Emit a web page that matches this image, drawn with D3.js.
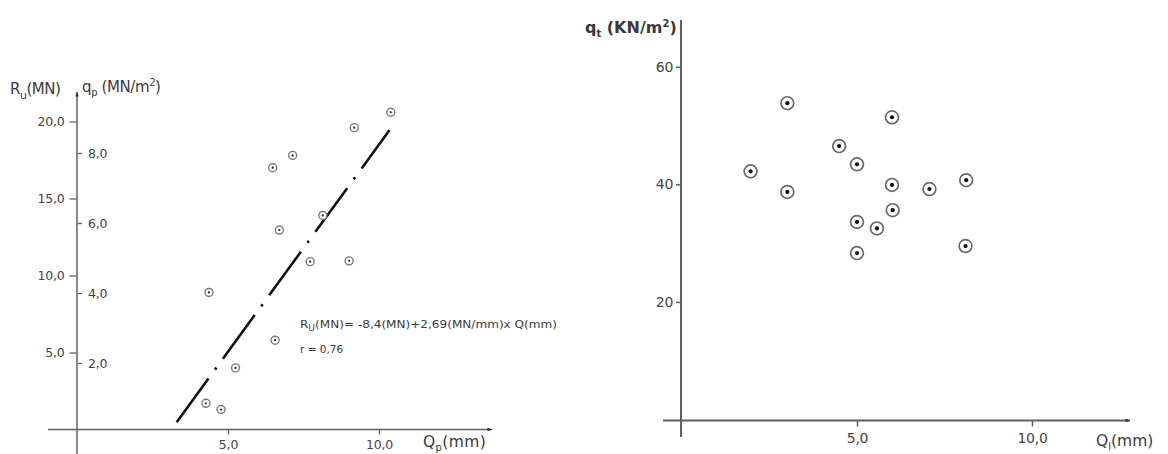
<!DOCTYPE html>
<html>
<head>
<meta charset="utf-8">
<script src="https://cdn.jsdelivr.net/npm/d3@7/dist/d3.min.js"></script>
<style>
  html, body { margin: 0; padding: 0; background: #fff; }
  svg { display: block; }
  .lbl { font-family: "DejaVu Sans", "Liberation Sans", sans-serif; fill: #3a3a3a; }
  .tick text { font-family: "DejaVu Sans", "Liberation Sans", sans-serif; fill: #444; }
</style>
</head>
<body>
<svg id="chart" width="1168" height="454"></svg>
<script>
// ---- Left panel: pile settlement Qp (mm) vs ultimate resistance Ru (MN) ----
const qpSettle = [4.37, 4.27, 4.77, 5.25, 6.56, 6.48, 7.14, 6.70, 7.72, 9.01, 8.14, 9.18, 10.39];
const ruValues = [8.9, 1.7, 1.3, 4.0, 5.8, 17.0, 17.8, 12.95, 10.9, 10.95, 13.9, 19.6, 20.6];
const ruTicks = [5, 10, 15, 20];
const qpTicks = [2, 4, 6, 8];
const leftXTicks = [5, 10];
// Regression Ru = a + b * Q, drawn over this settlement range
const fitIntercept = -8.4;
const fitSlope = 2.69;
const fitRange = [3.3, 10.35];

// ---- Right panel: settlement Ql (mm) vs shaft friction qt (kN/m2) ----
const qlSettle = [3.01, 4.49, 5.0, 1.96, 3.01, 5.0, 5.57, 6.02, 5.0, 6.0, 6.0, 7.07, 8.12, 8.10];
const qtValues = [53.8, 46.5, 43.4, 42.2, 38.7, 33.6, 32.5, 35.6, 28.3, 51.4, 39.9, 39.2, 40.7, 29.5];
const qtTicks = [20, 40, 60];
const rightXTicks = [5, 10];

const fmt1 = d => d.toFixed(1).replace(".", ",");
const svg = d3.select("#chart");
const axisColor = "#606060";

const defs = svg.append("defs");
defs.append("marker")
  .attr("id", "arrow")
  .attr("viewBox", "0 0 10 10")
  .attr("refX", 9).attr("refY", 5)
  .attr("markerWidth", 6).attr("markerHeight", 5)
  .attr("markerUnits", "userSpaceOnUse")
  .attr("orient", "auto")
  .append("path").attr("d", "M0,1.5 L10,5 L0,8.5 Z").attr("fill", "#333");

// ================= LEFT PANEL =================
const xL = d3.scaleLinear().domain([0, 10]).range([77, 379]);
const yRu = d3.scaleLinear().domain([0, 20]).range([429.5, 121.5]);
const yQp = d3.scaleLinear().domain([2, 8]).range([363, 153]);

const left = svg.append("g");

// axis lines
left.append("line")
  .attr("x1", xL(0)).attr("x2", xL(0))
  .attr("y1", 454).attr("y2", 92)
  .attr("stroke", axisColor).attr("stroke-width", 1.5)
  .attr("marker-end", "url(#arrow)");
left.append("line")
  .attr("x1", 48).attr("x2", 492)
  .attr("y1", yRu(0)).attr("y2", yRu(0))
  .attr("stroke", axisColor).attr("stroke-width", 1.5)
  .attr("marker-end", "url(#arrow)");

// Ru ticks (left side of axis)
const ruAxis = left.append("g")
  .attr("transform", `translate(${xL(0) - 0.5},0)`)
  .call(d3.axisLeft(yRu).tickValues(ruTicks).tickFormat(fmt1).tickSize(7).tickPadding(5));
// qp ticks (short dashes right of axis)
const qpAxis = left.append("g")
  .attr("transform", `translate(${xL(0) + 1},0)`)
  .call(d3.axisRight(yQp).tickValues(qpTicks).tickFormat(fmt1).tickSize(4).tickPadding(6));
// settlement ticks
const qxAxis = left.append("g")
  .attr("transform", `translate(0,${yRu(0)})`)
  .call(d3.axisBottom(xL).tickValues(leftXTicks).tickFormat(fmt1).tickSize(5).tickPadding(6));

[ruAxis, qpAxis, qxAxis].forEach(g => {
  g.select(".domain").remove();
  g.selectAll(".tick line").attr("stroke", axisColor).attr("stroke-width", 1.3);
  g.selectAll(".tick text").style("font-size", "12.5px").style("letter-spacing", "-0.2px");
});

// regression line (dash-dot)
const fitLine = d3.line().x(d => xL(d)).y(d => yRu(fitIntercept + fitSlope * d));
left.append("path")
  .datum(fitRange)
  .attr("d", fitLine)
  .attr("fill", "none")
  .attr("stroke", "#111")
  .attr("stroke-width", 2.6)
  .attr("stroke-dasharray", "54 11 2.5 11");

// data markers: ring with a centre dot
const lp = left.selectAll("g.pt").data(qpSettle.map((q, i) => [q, ruValues[i]]))
  .enter().append("g").attr("class", "pt")
  .attr("transform", d => `translate(${xL(d[0])},${yRu(d[1])})`);
lp.append("circle").attr("r", 4).attr("fill", "#fff").attr("stroke", "#7a7a7a").attr("stroke-width", 1.4);
lp.append("circle").attr("r", 1.1).attr("fill", "#222");

// axis titles
const ruTitle = left.append("text").attr("class", "lbl")
  .attr("x", 10).attr("y", 93.5).style("font-size", "15px").style("letter-spacing", "-0.5px");
ruTitle.append("tspan").text("R");
ruTitle.append("tspan").attr("dy", 5).style("font-size", "11px").text("u");
ruTitle.append("tspan").attr("dy", -5).text("(MN)");

const qpTitle = left.append("text").attr("class", "lbl")
  .attr("x", 82).attr("y", 92).style("font-size", "15px").style("letter-spacing", "-0.4px");
qpTitle.append("tspan").text("q");
qpTitle.append("tspan").attr("dy", 4).style("font-size", "10px").text("p");
qpTitle.append("tspan").attr("dy", -4).text(" (MN/m");
qpTitle.append("tspan").attr("dy", -6).style("font-size", "10px").text("2");
qpTitle.append("tspan").attr("dy", 6).text(")");

const qxTitle = left.append("text").attr("class", "lbl")
  .attr("x", 423).attr("y", 447).style("font-size", "15.5px").style("letter-spacing", "0.4px");
qxTitle.append("tspan").text("Q");
qxTitle.append("tspan").attr("dy", 4).style("font-size", "10px").text("p");
qxTitle.append("tspan").attr("dy", -4).text("(mm)");

// regression equation
const eq = left.append("text").attr("class", "lbl")
  .attr("x", 300).attr("y", 328).style("font-size", "10.5px")
  .attr("textLength", 257).attr("lengthAdjust", "spacingAndGlyphs");
eq.append("tspan").text("R");
eq.append("tspan").attr("dy", 3).style("font-size", "8px").text("U");
eq.append("tspan").attr("dy", -3)
  .text(`(MN)= ${fmt1(fitIntercept)}(MN)+${fitSlope.toFixed(2).replace(".", ",")}(MN/mm)x Q(mm)`);
left.append("text").attr("class", "lbl")
  .attr("x", 300).attr("y", 353).style("font-size", "10.5px")
  .text("r = 0,76");

// ================= RIGHT PANEL =================
const xR = d3.scaleLinear().domain([0, 10]).range([682, 1032]);
const yQt = d3.scaleLinear().domain([0, 60]).range([419.5, 66.7]);

const right = svg.append("g");

right.append("line")
  .attr("x1", xR(0) - 1).attr("x2", xR(0) - 1)
  .attr("y1", 437).attr("y2", 20)
  .attr("stroke", axisColor).attr("stroke-width", 2);
right.append("line")
  .attr("x1", 663).attr("x2", 1130)
  .attr("y1", yQt(0) + 1).attr("y2", yQt(0) + 1)
  .attr("stroke", axisColor).attr("stroke-width", 1.8)
  .attr("marker-end", "url(#arrow)");

const qtAxis = right.append("g")
  .attr("transform", `translate(${xR(0) - 1},0)`)
  .call(d3.axisLeft(yQt).tickValues(qtTicks).tickSize(5).tickPadding(3));
const qlAxis = right.append("g")
  .attr("transform", `translate(0,${yQt(0) + 1})`)
  .call(d3.axisBottom(xR).tickValues(rightXTicks).tickFormat(fmt1).tickSize(6).tickPadding(7));
[qtAxis, qlAxis].forEach(g => {
  g.select(".domain").remove();
  g.selectAll(".tick line").attr("stroke", axisColor).attr("stroke-width", 1.5);
  g.selectAll(".tick text").style("font-size", "14px").style("letter-spacing", "-0.3px");
});

const rp = right.selectAll("g.pt").data(qlSettle.map((q, i) => [q, qtValues[i]]))
  .enter().append("g").attr("class", "pt")
  .attr("transform", d => `translate(${xR(d[0])},${yQt(d[1])})`);
rp.append("circle").attr("r", 6.4).attr("fill", "#fff").attr("stroke", "#6a6a6a").attr("stroke-width", 1.7);
rp.append("circle").attr("r", 2.1).attr("fill", "#111");

const qtTitle = right.append("text").attr("class", "lbl")
  .attr("x", 585).attr("y", 33).style("font-size", "16px").style("font-weight", "bold");
qtTitle.append("tspan").text("q");
qtTitle.append("tspan").attr("dy", 4).style("font-size", "10px").text("t");
qtTitle.append("tspan").attr("dy", -4).text(" (KN/m");
qtTitle.append("tspan").attr("dy", -6).style("font-size", "10px").text("2");
qtTitle.append("tspan").attr("dy", 6).text(")");

const qlTitle = right.append("text").attr("class", "lbl")
  .attr("x", 1096).attr("y", 446).style("font-size", "15.5px");
qlTitle.append("tspan").text("Q");
qlTitle.append("tspan").attr("dy", 4).style("font-size", "10px").text("l");
qlTitle.append("tspan").attr("dy", -4).text("(mm)");
</script>
</body>
</html>
